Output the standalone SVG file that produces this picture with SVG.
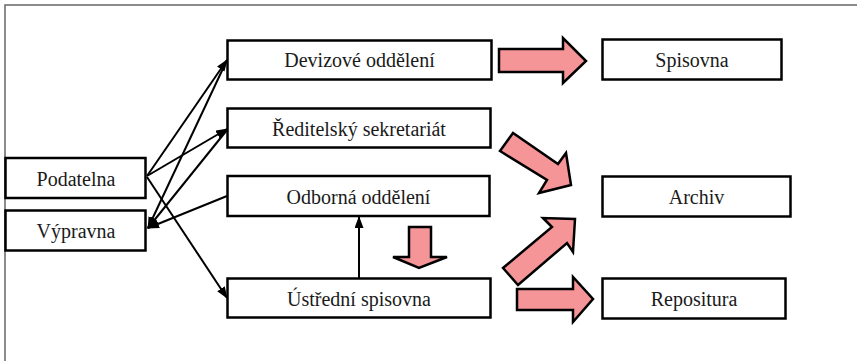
<svg xmlns="http://www.w3.org/2000/svg" width="857" height="361" viewBox="0 0 857 361">
<style>
.box{fill:#fff;stroke:#000;stroke-width:2.5}
.lbl{font-size:20px;fill:#1a1a1a;text-anchor:middle}
.ln{stroke:#000;stroke-width:2;fill:none;marker-end:url(#ah)}
.blk{fill:#F59598;stroke:#000;stroke-width:2.5;stroke-linejoin:miter}
</style>
<defs>
<marker id="ah" markerUnits="userSpaceOnUse" markerWidth="12" markerHeight="10" refX="11" refY="4.5" orient="auto">
<path d="M0,0 L12,4.5 L0,9 z" fill="#000"/>
</marker>
</defs>
<rect x="5" y="5" width="900" height="400" fill="#fff" stroke="#666" stroke-width="1.5"/>
<g id="connectors">
<line class="ln" x1="147" y1="176" x2="227" y2="60"/>
<line class="ln" x1="147" y1="176" x2="227" y2="129"/>
<line class="ln" x1="147" y1="177" x2="227" y2="298"/>
<line class="ln" x1="227" y1="60" x2="148" y2="228"/>
<line class="ln" x1="227" y1="130" x2="148" y2="228"/>
<line class="ln" x1="227" y1="196" x2="148" y2="228"/>
<line class="ln" x1="359" y1="278" x2="359" y2="217"/>
<polygon class="blk" points="499,49 563,49 563,38 586,61 563,83 563,72 499,72"/>
<polygon class="blk" points="500,151 513,133 558,164 566,153 571,185 539,193 547,180"/>
<polygon class="blk" points="503,268 552,227 543,218 575,219 573,252 567,243 518,285"/>
<polygon class="blk" points="517,289 573,289 573,277 593,299 573,322 573,310 517,310"/>
<polygon class="blk" points="409,227 431,227 431,257 447,257 419,268 393,257 409,257"/>
</g>
<g font-family="'Liberation Serif', 'Times New Roman', serif">
<g id="podatelna"><rect class="box" x="5.5" y="158" width="140" height="40"/><text class="lbl" x="76" y="186">Podatelna</text></g>
<g id="vypravna"><rect class="box" x="5.5" y="210.5" width="140" height="40"/><text class="lbl" x="76" y="238">Výpravna</text></g>
<g id="devizove"><rect class="box" x="227.5" y="40.5" width="264" height="39"/><text class="lbl" x="359.5" y="67">Devizové oddělení</text></g>
<g id="reditelsky"><rect class="box" x="227.5" y="108.5" width="263" height="39"/><text class="lbl" x="359" y="135.5">Ředitelský sekretariát</text></g>
<g id="odborna"><rect class="box" x="227.5" y="176" width="262" height="40"/><text class="lbl" x="358.5" y="203.5">Odborná oddělení</text></g>
<g id="ustredni"><rect class="box" x="227.5" y="278.5" width="263" height="39"/><text class="lbl" x="359" y="305.5">Ústřední spisovna</text></g>
<g id="spisovna"><rect class="box" x="602.5" y="39.5" width="179" height="40"/><text class="lbl" x="692" y="67">Spisovna</text></g>
<g id="archiv"><rect class="box" x="602.5" y="176.5" width="188" height="40"/><text class="lbl" x="696.5" y="203.5">Archiv</text></g>
<g id="repositura"><rect class="box" x="602.5" y="278.5" width="183" height="40"/><text class="lbl" x="694" y="306">Repositura</text></g>
</g>
</svg>
